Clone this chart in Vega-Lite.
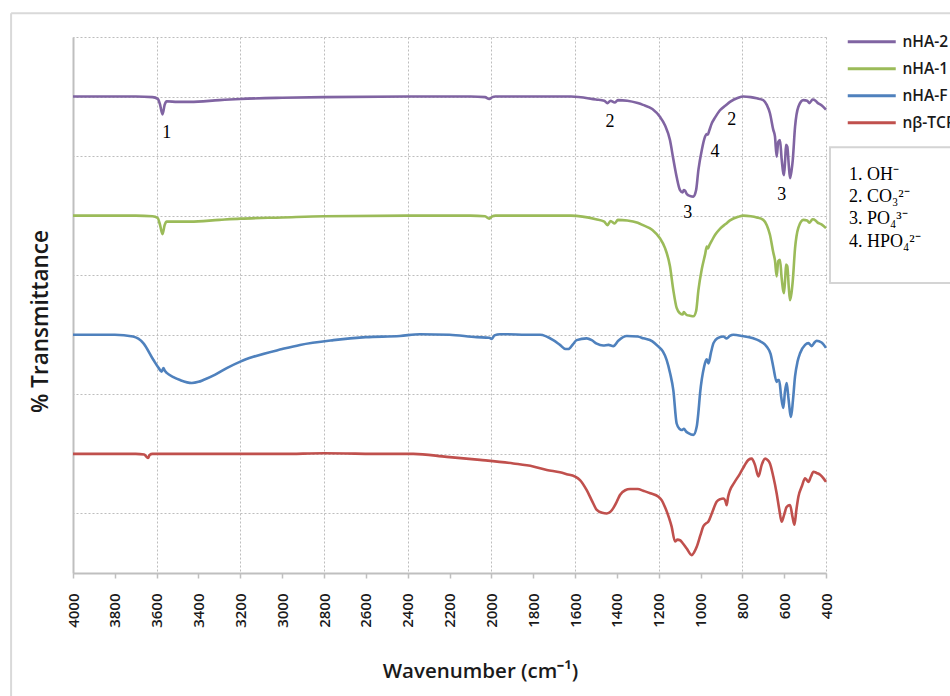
{
  "$schema": "https://vega.github.io/schema/vega-lite/v6.json",
  "width": 753,
  "height": 536,
  "autosize": {"type": "none"},
  "padding": {"left": 73, "top": 37, "right": 124, "bottom": 123},
  "background": "white",
  "config": {
    "view": {"stroke": null},
    "font": "Open Sans"
  },
  "datasets": {
    "spectra": [
      {"wn":4000,"t":80,"s":"nHA-2"},{"wn":3700,"t":80,"s":"nHA-2"},{"wn":3620,"t":79.9,"s":"nHA-2"},{"wn":3595,"t":79.6,"s":"nHA-2"},{"wn":3585,"t":78.8,"s":"nHA-2"},{"wn":3572,"t":77.0,"s":"nHA-2"},{"wn":3562,"t":78.6,"s":"nHA-2"},{"wn":3552,"t":79.2,"s":"nHA-2"},{"wn":3500,"t":79.1,"s":"nHA-2"},{"wn":3440,"t":79.1,"s":"nHA-2"},{"wn":3300,"t":79.4,"s":"nHA-2"},{"wn":3200,"t":79.6,"s":"nHA-2"},{"wn":3000,"t":79.8,"s":"nHA-2"},{"wn":2800,"t":79.9,"s":"nHA-2"},{"wn":2400,"t":80,"s":"nHA-2"},{"wn":2100,"t":80,"s":"nHA-2"},{"wn":2030,"t":79.9,"s":"nHA-2"},{"wn":2010,"t":79.6,"s":"nHA-2"},{"wn":1995,"t":79.9,"s":"nHA-2"},{"wn":1980,"t":80,"s":"nHA-2"},{"wn":1620,"t":80,"s":"nHA-2"},{"wn":1500,"t":79.5,"s":"nHA-2"},{"wn":1460,"t":79.3,"s":"nHA-2"},{"wn":1445,"t":78.9,"s":"nHA-2"},{"wn":1430,"t":79.3,"s":"nHA-2"},{"wn":1410,"t":79.0,"s":"nHA-2"},{"wn":1395,"t":79.4,"s":"nHA-2"},{"wn":1350,"t":79.3,"s":"nHA-2"},{"wn":1300,"t":78.9,"s":"nHA-2"},{"wn":1275,"t":78.6,"s":"nHA-2"},{"wn":1230,"t":77.9,"s":"nHA-2"},{"wn":1194,"t":76.6,"s":"nHA-2"},{"wn":1170,"t":75.2,"s":"nHA-2"},{"wn":1146,"t":72.7,"s":"nHA-2"},{"wn":1130,"t":69.5,"s":"nHA-2"},{"wn":1114,"t":66.5,"s":"nHA-2"},{"wn":1098,"t":64.3,"s":"nHA-2"},{"wn":1085,"t":63.9,"s":"nHA-2"},{"wn":1080,"t":64.3,"s":"nHA-2"},{"wn":1074,"t":64.2,"s":"nHA-2"},{"wn":1065,"t":63.6,"s":"nHA-2"},{"wn":1050,"t":63.3,"s":"nHA-2"},{"wn":1034,"t":63.2,"s":"nHA-2"},{"wn":1021,"t":64.3,"s":"nHA-2"},{"wn":1010,"t":67.7,"s":"nHA-2"},{"wn":994,"t":71.0,"s":"nHA-2"},{"wn":978,"t":73.3,"s":"nHA-2"},{"wn":970,"t":73.7,"s":"nHA-2"},{"wn":965,"t":73.6,"s":"nHA-2"},{"wn":958,"t":74.3,"s":"nHA-2"},{"wn":946,"t":75.5,"s":"nHA-2"},{"wn":930,"t":76.5,"s":"nHA-2"},{"wn":907,"t":77.7,"s":"nHA-2"},{"wn":880,"t":78.5,"s":"nHA-2"},{"wn":859,"t":79.1,"s":"nHA-2"},{"wn":820,"t":79.8,"s":"nHA-2"},{"wn":795,"t":80.0,"s":"nHA-2"},{"wn":760,"t":79.9,"s":"nHA-2"},{"wn":731,"t":79.7,"s":"nHA-2"},{"wn":700,"t":79.4,"s":"nHA-2"},{"wn":683,"t":78.6,"s":"nHA-2"},{"wn":668,"t":77.2,"s":"nHA-2"},{"wn":652,"t":74.4,"s":"nHA-2"},{"wn":644,"t":73.3,"s":"nHA-2"},{"wn":636,"t":69.9,"s":"nHA-2"},{"wn":628,"t":72.4,"s":"nHA-2"},{"wn":620,"t":72.7,"s":"nHA-2"},{"wn":612,"t":69.5,"s":"nHA-2"},{"wn":601,"t":66.8,"s":"nHA-2"},{"wn":595,"t":69.5,"s":"nHA-2"},{"wn":591,"t":71.9,"s":"nHA-2"},{"wn":585,"t":71.6,"s":"nHA-2"},{"wn":578,"t":68.5,"s":"nHA-2"},{"wn":572,"t":66.3,"s":"nHA-2"},{"wn":565,"t":67.5,"s":"nHA-2"},{"wn":559,"t":69.3,"s":"nHA-2"},{"wn":548,"t":74.9,"s":"nHA-2"},{"wn":532,"t":78.3,"s":"nHA-2"},{"wn":508,"t":79.4,"s":"nHA-2"},{"wn":490,"t":79.3,"s":"nHA-2"},{"wn":480,"t":78.9,"s":"nHA-2"},{"wn":464,"t":79.5,"s":"nHA-2"},{"wn":450,"t":79.3,"s":"nHA-2"},{"wn":442,"t":79.0,"s":"nHA-2"},{"wn":420,"t":78.5,"s":"nHA-2"},{"wn":400,"t":77.8,"s":"nHA-2"},

      {"wn":4000,"t":60,"s":"nHA-1"},{"wn":3700,"t":60,"s":"nHA-1"},{"wn":3620,"t":59.9,"s":"nHA-1"},{"wn":3595,"t":59.6,"s":"nHA-1"},{"wn":3585,"t":58.6,"s":"nHA-1"},{"wn":3572,"t":56.9,"s":"nHA-1"},{"wn":3562,"t":58.4,"s":"nHA-1"},{"wn":3552,"t":59.0,"s":"nHA-1"},{"wn":3500,"t":59.0,"s":"nHA-1"},{"wn":3440,"t":59.0,"s":"nHA-1"},{"wn":3300,"t":59.3,"s":"nHA-1"},{"wn":3200,"t":59.5,"s":"nHA-1"},{"wn":3000,"t":59.7,"s":"nHA-1"},{"wn":2800,"t":59.9,"s":"nHA-1"},{"wn":2400,"t":60,"s":"nHA-1"},{"wn":2100,"t":60,"s":"nHA-1"},{"wn":2030,"t":59.9,"s":"nHA-1"},{"wn":2010,"t":59.5,"s":"nHA-1"},{"wn":1995,"t":59.9,"s":"nHA-1"},{"wn":1980,"t":60,"s":"nHA-1"},{"wn":1620,"t":60,"s":"nHA-1"},{"wn":1500,"t":59.4,"s":"nHA-1"},{"wn":1460,"t":59.0,"s":"nHA-1"},{"wn":1445,"t":58.4,"s":"nHA-1"},{"wn":1430,"t":59.1,"s":"nHA-1"},{"wn":1410,"t":58.7,"s":"nHA-1"},{"wn":1395,"t":59.3,"s":"nHA-1"},{"wn":1350,"t":59.2,"s":"nHA-1"},{"wn":1300,"t":58.8,"s":"nHA-1"},{"wn":1275,"t":58.4,"s":"nHA-1"},{"wn":1230,"t":57.6,"s":"nHA-1"},{"wn":1194,"t":56.2,"s":"nHA-1"},{"wn":1170,"t":54.6,"s":"nHA-1"},{"wn":1146,"t":51.5,"s":"nHA-1"},{"wn":1130,"t":47.5,"s":"nHA-1"},{"wn":1114,"t":44.5,"s":"nHA-1"},{"wn":1098,"t":43.6,"s":"nHA-1"},{"wn":1085,"t":43.4,"s":"nHA-1"},{"wn":1080,"t":43.8,"s":"nHA-1"},{"wn":1074,"t":43.6,"s":"nHA-1"},{"wn":1065,"t":43.3,"s":"nHA-1"},{"wn":1050,"t":43.2,"s":"nHA-1"},{"wn":1034,"t":43.1,"s":"nHA-1"},{"wn":1021,"t":44.0,"s":"nHA-1"},{"wn":1010,"t":47.5,"s":"nHA-1"},{"wn":994,"t":51.0,"s":"nHA-1"},{"wn":978,"t":53.5,"s":"nHA-1"},{"wn":970,"t":54.8,"s":"nHA-1"},{"wn":965,"t":54.5,"s":"nHA-1"},{"wn":958,"t":55.0,"s":"nHA-1"},{"wn":946,"t":55.8,"s":"nHA-1"},{"wn":930,"t":56.8,"s":"nHA-1"},{"wn":907,"t":57.8,"s":"nHA-1"},{"wn":880,"t":58.6,"s":"nHA-1"},{"wn":859,"t":59.2,"s":"nHA-1"},{"wn":820,"t":59.8,"s":"nHA-1"},{"wn":795,"t":60.0,"s":"nHA-1"},{"wn":760,"t":59.9,"s":"nHA-1"},{"wn":731,"t":59.7,"s":"nHA-1"},{"wn":700,"t":59.3,"s":"nHA-1"},{"wn":683,"t":58.4,"s":"nHA-1"},{"wn":668,"t":56.8,"s":"nHA-1"},{"wn":652,"t":53.8,"s":"nHA-1"},{"wn":644,"t":52.5,"s":"nHA-1"},{"wn":636,"t":49.8,"s":"nHA-1"},{"wn":628,"t":52.4,"s":"nHA-1"},{"wn":620,"t":52.6,"s":"nHA-1"},{"wn":612,"t":49.5,"s":"nHA-1"},{"wn":601,"t":47.0,"s":"nHA-1"},{"wn":595,"t":49.5,"s":"nHA-1"},{"wn":591,"t":51.8,"s":"nHA-1"},{"wn":585,"t":51.5,"s":"nHA-1"},{"wn":578,"t":48.0,"s":"nHA-1"},{"wn":572,"t":45.8,"s":"nHA-1"},{"wn":565,"t":47.0,"s":"nHA-1"},{"wn":559,"t":49.0,"s":"nHA-1"},{"wn":548,"t":54.5,"s":"nHA-1"},{"wn":532,"t":58.0,"s":"nHA-1"},{"wn":508,"t":59.3,"s":"nHA-1"},{"wn":490,"t":59.2,"s":"nHA-1"},{"wn":480,"t":58.8,"s":"nHA-1"},{"wn":464,"t":59.4,"s":"nHA-1"},{"wn":450,"t":59.2,"s":"nHA-1"},{"wn":442,"t":58.9,"s":"nHA-1"},{"wn":420,"t":58.5,"s":"nHA-1"},{"wn":400,"t":57.9,"s":"nHA-1"},

      {"wn":4000,"t":40,"s":"nHA-F"},{"wn":3800,"t":40,"s":"nHA-F"},{"wn":3713,"t":39.7,"s":"nHA-F"},{"wn":3664,"t":38.6,"s":"nHA-F"},{"wn":3616,"t":35.8,"s":"nHA-F"},{"wn":3590,"t":34.4,"s":"nHA-F"},{"wn":3576,"t":33.8,"s":"nHA-F"},{"wn":3568,"t":34.4,"s":"nHA-F"},{"wn":3560,"t":33.9,"s":"nHA-F"},{"wn":3552,"t":33.6,"s":"nHA-F"},{"wn":3520,"t":32.9,"s":"nHA-F"},{"wn":3488,"t":32.4,"s":"nHA-F"},{"wn":3432,"t":31.9,"s":"nHA-F"},{"wn":3400,"t":32.1,"s":"nHA-F"},{"wn":3377,"t":32.4,"s":"nHA-F"},{"wn":3320,"t":33.3,"s":"nHA-F"},{"wn":3265,"t":34.4,"s":"nHA-F"},{"wn":3200,"t":35.5,"s":"nHA-F"},{"wn":3138,"t":36.3,"s":"nHA-F"},{"wn":3000,"t":37.6,"s":"nHA-F"},{"wn":2915,"t":38.3,"s":"nHA-F"},{"wn":2755,"t":39.1,"s":"nHA-F"},{"wn":2600,"t":39.6,"s":"nHA-F"},{"wn":2437,"t":39.8,"s":"nHA-F"},{"wn":2341,"t":40.1,"s":"nHA-F"},{"wn":2200,"t":40.0,"s":"nHA-F"},{"wn":2070,"t":39.6,"s":"nHA-F"},{"wn":2010,"t":39.5,"s":"nHA-F"},{"wn":1998,"t":39.3,"s":"nHA-F"},{"wn":1985,"t":39.9,"s":"nHA-F"},{"wn":1958,"t":40.1,"s":"nHA-F"},{"wn":1800,"t":40.0,"s":"nHA-F"},{"wn":1767,"t":40.0,"s":"nHA-F"},{"wn":1704,"t":39.1,"s":"nHA-F"},{"wn":1672,"t":38.3,"s":"nHA-F"},{"wn":1645,"t":37.6,"s":"nHA-F"},{"wn":1632,"t":37.6,"s":"nHA-F"},{"wn":1610,"t":38.4,"s":"nHA-F"},{"wn":1592,"t":39.1,"s":"nHA-F"},{"wn":1544,"t":39.4,"s":"nHA-F"},{"wn":1520,"t":39.1,"s":"nHA-F"},{"wn":1496,"t":38.5,"s":"nHA-F"},{"wn":1465,"t":38.2,"s":"nHA-F"},{"wn":1440,"t":38.3,"s":"nHA-F"},{"wn":1417,"t":38.1,"s":"nHA-F"},{"wn":1393,"t":39.0,"s":"nHA-F"},{"wn":1353,"t":39.8,"s":"nHA-F"},{"wn":1300,"t":39.7,"s":"nHA-F"},{"wn":1273,"t":39.4,"s":"nHA-F"},{"wn":1230,"t":38.9,"s":"nHA-F"},{"wn":1201,"t":38.0,"s":"nHA-F"},{"wn":1180,"t":37.2,"s":"nHA-F"},{"wn":1162,"t":35.8,"s":"nHA-F"},{"wn":1145,"t":33.5,"s":"nHA-F"},{"wn":1130,"t":30.7,"s":"nHA-F"},{"wn":1114,"t":25.1,"s":"nHA-F"},{"wn":1100,"t":24.2,"s":"nHA-F"},{"wn":1090,"t":24.0,"s":"nHA-F"},{"wn":1079,"t":24.2,"s":"nHA-F"},{"wn":1070,"t":23.8,"s":"nHA-F"},{"wn":1058,"t":23.5,"s":"nHA-F"},{"wn":1034,"t":23.2,"s":"nHA-F"},{"wn":1018,"t":24.6,"s":"nHA-F"},{"wn":1010,"t":27.0,"s":"nHA-F"},{"wn":1002,"t":30.2,"s":"nHA-F"},{"wn":983,"t":34.6,"s":"nHA-F"},{"wn":975,"t":35.6,"s":"nHA-F"},{"wn":970,"t":35.9,"s":"nHA-F"},{"wn":962,"t":35.2,"s":"nHA-F"},{"wn":950,"t":37.0,"s":"nHA-F"},{"wn":938,"t":38.6,"s":"nHA-F"},{"wn":920,"t":39.4,"s":"nHA-F"},{"wn":891,"t":39.7,"s":"nHA-F"},{"wn":875,"t":39.4,"s":"nHA-F"},{"wn":860,"t":39.8,"s":"nHA-F"},{"wn":843,"t":40.0,"s":"nHA-F"},{"wn":800,"t":39.8,"s":"nHA-F"},{"wn":748,"t":39.4,"s":"nHA-F"},{"wn":720,"t":39.0,"s":"nHA-F"},{"wn":683,"t":38.0,"s":"nHA-F"},{"wn":665,"t":36.8,"s":"nHA-F"},{"wn":652,"t":34.6,"s":"nHA-F"},{"wn":636,"t":32.1,"s":"nHA-F"},{"wn":630,"t":32.4,"s":"nHA-F"},{"wn":624,"t":32.4,"s":"nHA-F"},{"wn":614,"t":29.5,"s":"nHA-F"},{"wn":604,"t":27.7,"s":"nHA-F"},{"wn":596,"t":30.5,"s":"nHA-F"},{"wn":588,"t":31.9,"s":"nHA-F"},{"wn":580,"t":29.5,"s":"nHA-F"},{"wn":567,"t":26.2,"s":"nHA-F"},{"wn":558,"t":29.0,"s":"nHA-F"},{"wn":548,"t":33.0,"s":"nHA-F"},{"wn":536,"t":35.5,"s":"nHA-F"},{"wn":524,"t":36.9,"s":"nHA-F"},{"wn":500,"t":38.3,"s":"nHA-F"},{"wn":484,"t":38.6,"s":"nHA-F"},{"wn":469,"t":38.1,"s":"nHA-F"},{"wn":455,"t":38.7,"s":"nHA-F"},{"wn":445,"t":39.0,"s":"nHA-F"},{"wn":421,"t":38.7,"s":"nHA-F"},{"wn":400,"t":37.8,"s":"nHA-F"},

      {"wn":4000,"t":20,"s":"nβ-TCP"},{"wn":3700,"t":20,"s":"nβ-TCP"},{"wn":3660,"t":19.9,"s":"nβ-TCP"},{"wn":3648,"t":19.5,"s":"nβ-TCP"},{"wn":3641,"t":19.3,"s":"nβ-TCP"},{"wn":3634,"t":19.8,"s":"nβ-TCP"},{"wn":3620,"t":20.0,"s":"nβ-TCP"},{"wn":3400,"t":20,"s":"nβ-TCP"},{"wn":3000,"t":20,"s":"nβ-TCP"},{"wn":2800,"t":20.1,"s":"nβ-TCP"},{"wn":2500,"t":20.0,"s":"nβ-TCP"},{"wn":2373,"t":20.0,"s":"nβ-TCP"},{"wn":2213,"t":19.5,"s":"nβ-TCP"},{"wn":2054,"t":19.0,"s":"nβ-TCP"},{"wn":1895,"t":18.4,"s":"nβ-TCP"},{"wn":1800,"t":17.9,"s":"nβ-TCP"},{"wn":1735,"t":17.3,"s":"nβ-TCP"},{"wn":1672,"t":16.9,"s":"nβ-TCP"},{"wn":1640,"t":16.6,"s":"nβ-TCP"},{"wn":1600,"t":16.2,"s":"nβ-TCP"},{"wn":1576,"t":15.6,"s":"nβ-TCP"},{"wn":1544,"t":13.9,"s":"nβ-TCP"},{"wn":1520,"t":12.2,"s":"nβ-TCP"},{"wn":1496,"t":10.6,"s":"nβ-TCP"},{"wn":1470,"t":10.1,"s":"nβ-TCP"},{"wn":1448,"t":10.0,"s":"nβ-TCP"},{"wn":1430,"t":10.3,"s":"nβ-TCP"},{"wn":1417,"t":10.9,"s":"nβ-TCP"},{"wn":1400,"t":12.0,"s":"nβ-TCP"},{"wn":1385,"t":13.1,"s":"nβ-TCP"},{"wn":1360,"t":13.9,"s":"nβ-TCP"},{"wn":1337,"t":14.1,"s":"nβ-TCP"},{"wn":1300,"t":14.1,"s":"nβ-TCP"},{"wn":1273,"t":13.8,"s":"nβ-TCP"},{"wn":1240,"t":13.4,"s":"nβ-TCP"},{"wn":1201,"t":12.8,"s":"nβ-TCP"},{"wn":1185,"t":12.2,"s":"nβ-TCP"},{"wn":1170,"t":11.1,"s":"nβ-TCP"},{"wn":1150,"t":9.2,"s":"nβ-TCP"},{"wn":1138,"t":7.8,"s":"nβ-TCP"},{"wn":1122,"t":5.3,"s":"nβ-TCP"},{"wn":1110,"t":5.6,"s":"nβ-TCP"},{"wn":1098,"t":5.5,"s":"nβ-TCP"},{"wn":1085,"t":5.0,"s":"nβ-TCP"},{"wn":1066,"t":4.1,"s":"nβ-TCP"},{"wn":1042,"t":3.0,"s":"nβ-TCP"},{"wn":1030,"t":3.5,"s":"nβ-TCP"},{"wn":1018,"t":4.4,"s":"nβ-TCP"},{"wn":1000,"t":6.4,"s":"nβ-TCP"},{"wn":987,"t":7.8,"s":"nβ-TCP"},{"wn":975,"t":8.3,"s":"nβ-TCP"},{"wn":963,"t":8.6,"s":"nβ-TCP"},{"wn":946,"t":10.0,"s":"nβ-TCP"},{"wn":922,"t":12.0,"s":"nβ-TCP"},{"wn":905,"t":12.4,"s":"nβ-TCP"},{"wn":891,"t":12.5,"s":"nβ-TCP"},{"wn":880,"t":12.0,"s":"nβ-TCP"},{"wn":875,"t":11.4,"s":"nβ-TCP"},{"wn":868,"t":12.8,"s":"nβ-TCP"},{"wn":859,"t":13.9,"s":"nβ-TCP"},{"wn":840,"t":15.1,"s":"nβ-TCP"},{"wn":811,"t":16.7,"s":"nβ-TCP"},{"wn":790,"t":18.0,"s":"nβ-TCP"},{"wn":771,"t":19.0,"s":"nβ-TCP"},{"wn":755,"t":19.2,"s":"nβ-TCP"},{"wn":740,"t":18.2,"s":"nβ-TCP"},{"wn":723,"t":16.2,"s":"nβ-TCP"},{"wn":707,"t":18.2,"s":"nβ-TCP"},{"wn":691,"t":19.2,"s":"nβ-TCP"},{"wn":680,"t":19.0,"s":"nβ-TCP"},{"wn":668,"t":18.4,"s":"nβ-TCP"},{"wn":652,"t":16.2,"s":"nβ-TCP"},{"wn":636,"t":13.4,"s":"nβ-TCP"},{"wn":624,"t":10.8,"s":"nβ-TCP"},{"wn":612,"t":8.6,"s":"nβ-TCP"},{"wn":600,"t":9.8,"s":"nβ-TCP"},{"wn":588,"t":11.1,"s":"nβ-TCP"},{"wn":572,"t":11.4,"s":"nβ-TCP"},{"wn":560,"t":9.4,"s":"nβ-TCP"},{"wn":551,"t":8.1,"s":"nβ-TCP"},{"wn":542,"t":10.5,"s":"nβ-TCP"},{"wn":532,"t":12.8,"s":"nβ-TCP"},{"wn":515,"t":14.6,"s":"nβ-TCP"},{"wn":500,"t":15.9,"s":"nβ-TCP"},{"wn":492,"t":15.6,"s":"nβ-TCP"},{"wn":484,"t":15.3,"s":"nβ-TCP"},{"wn":472,"t":16.2,"s":"nβ-TCP"},{"wn":460,"t":17.0,"s":"nβ-TCP"},{"wn":445,"t":16.8,"s":"nβ-TCP"},{"wn":428,"t":16.5,"s":"nβ-TCP"},{"wn":410,"t":15.8,"s":"nβ-TCP"},{"wn":400,"t":15.3,"s":"nβ-TCP"}
    ],
    "peaks": [
      {"wn":3552,"t":73.9,"label":"1"},
      {"wn":1433,"t":75.8,"label":"2"},
      {"wn":851,"t":76.1,"label":"2"},
      {"wn":931,"t":70.7,"label":"4"},
      {"wn":1061,"t":60.5,"label":"3"},
      {"wn":612,"t":63.4,"label":"3"}
    ],
    "keybox": [
      {"wn":381,"wn2":-400,"t":71.5,"t2":48.7}
    ],
    "keytext": [
      {"wn":290,"t":66.8,"label":"1. OH⁻"},
      {"wn":290,"t":63.1,"label":"2. CO₃²⁻"},
      {"wn":290,"t":59.4,"label":"3. PO₄³⁻"},
      {"wn":290,"t":55.6,"label":"4. HPO₄²⁻"}
    ],
    "frame": [
      {"wn":4296,"wn2":4296,"t":94.0,"t2":-25},
      {"wn":4296,"wn2":-400,"t":94.0,"t2":94.0}
    ]
  },
  "layer": [
    {
      "data": {"name": "frame"},
      "mark": {"type": "rule", "color": "#d9d9d9", "strokeWidth": 2, "clip": false},
      "encoding": {
        "x": {"field": "wn", "type": "quantitative", "scale": {"domain": [400, 4000], "reverse": true, "nice": false, "zero": false}},
        "x2": {"field": "wn2"},
        "y": {"field": "t", "type": "quantitative", "scale": {"domain": [0, 90], "nice": false}},
        "y2": {"field": "t2"}
      }
    },
    {
      "data": {"name": "keybox"},
      "mark": {"type": "rect", "fill": "white", "stroke": "#d4d4d4", "strokeWidth": 2, "clip": false},
      "encoding": {
        "x": {"field": "wn", "type": "quantitative"},
        "x2": {"field": "wn2"},
        "y": {"field": "t", "type": "quantitative"},
        "y2": {"field": "t2"}
      }
    },
    {
      "data": {"name": "keytext"},
      "mark": {"type": "text", "font": "Liberation Serif", "fontSize": 18, "color": "#000000", "align": "left", "clip": false},
      "encoding": {
        "x": {"field": "wn", "type": "quantitative"},
        "y": {"field": "t", "type": "quantitative"},
        "text": {"field": "label"}
      }
    },
    {
      "data": {"name": "spectra"},
      "mark": {"type": "line", "strokeWidth": 2.6, "interpolate": "monotone"},
      "encoding": {
        "x": {
          "field": "wn", "type": "quantitative",
          "scale": {"domain": [400, 4000], "reverse": true, "nice": false, "zero": false},
          "axis": {
            "values": [400,600,800,1000,1200,1400,1600,1800,2000,2200,2400,2600,2800,3000,3200,3400,3600,3800,4000],
            "format": "d",
            "labelAngle": 270,
            "labelFont": "Open Sans",
            "labelFontSize": 15,
            "labelFontWeight": 600,
            "labelColor": "#1a1a1a",
            "labelPadding": 15,
            "tickSize": 5,
            "tickColor": "#bfbfbf",
            "tickWidth": 1.5,
            "domainColor": "#bfbfbf",
            "domainWidth": 2,
            "grid": true,
            "gridColor": "#bdbdbd",
            "gridDash": [2, 2],
            "gridWidth": 1,
            "gridOpacity": {"condition": {"test": "datum.value % 400 === 0", "value": 1}, "value": 0},
            "title": "Wavenumber (cm⁻¹)",
            "titleFont": "Open Sans",
            "titleFontSize": 20.5,
            "titleFontWeight": 600,
            "titleColor": "#1a1a1a",
            "titleX": 407,
            "titleY": 104,
            "titleBaseline": "alphabetic"
          }
        },
        "y": {
          "field": "t", "type": "quantitative",
          "scale": {"domain": [0, 90], "nice": false},
          "axis": {
            "values": [0,10,20,30,40,50,60,70,80,90],
            "labels": false,
            "ticks": false,
            "domainColor": "#bfbfbf",
            "domainWidth": 2,
            "grid": true,
            "gridColor": "#bdbdbd",
            "gridDash": [2, 2],
            "gridWidth": 1,
            "title": "% Transmittance",
            "titleFont": "Open Sans",
            "titleFontSize": 22.5,
            "titleFontWeight": 600,
            "titleColor": "#1a1a1a",
            "titleX": -33,
            "titleY": 284,
            "titleBaseline": "middle"
          }
        },
        "color": {
          "field": "s", "type": "nominal",
          "scale": {"domain": ["nHA-2", "nHA-1", "nHA-F", "nβ-TCP"], "range": ["#8064A2", "#9BBB59", "#4F81BD", "#C0504D"]},
          "legend": {
            "title": null,
            "orient": "none",
            "legendX": 791,
            "legendY": -3,
            "symbolType": "M-4,0H4",
            "symbolSize": 144,
            "symbolStrokeWidth": 3,
            "labelFont": "Open Sans",
            "labelFontSize": 15.5,
            "labelFontWeight": 600,
            "labelColor": "#1a1a1a",
            "labelOffset": 23,
            "rowPadding": 10
          }
        }
      }
    },
    {
      "data": {"name": "peaks"},
      "mark": {"type": "text", "font": "Liberation Serif", "fontSize": 18, "color": "#000000"},
      "encoding": {
        "x": {"field": "wn", "type": "quantitative"},
        "y": {"field": "t", "type": "quantitative"},
        "text": {"field": "label"}
      }
    }
  ]
}
